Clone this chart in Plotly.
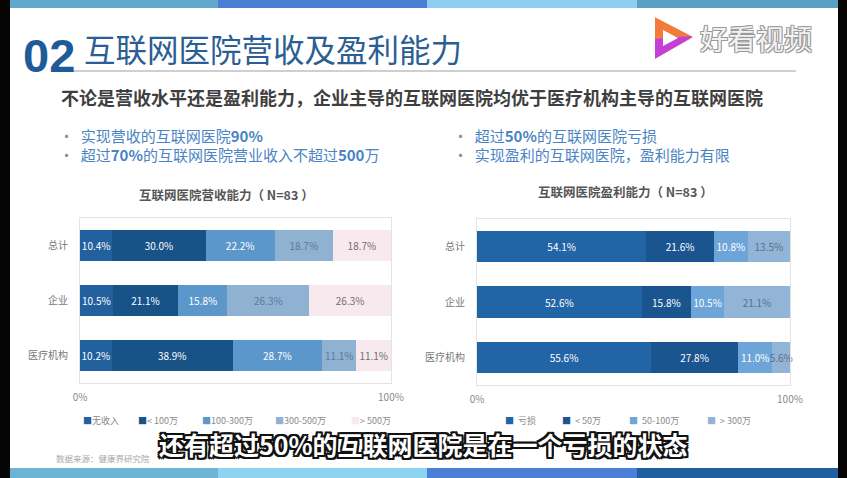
import plotly.graph_objects as go

W, H = 847, 478
FONT = "Noto Sans CJK SC"

# ---------------- data ----------------
categories = ["总计", "企业", "医疗机构"]

rev_series = ["无收入", "< 100万", "100-300万", "300-500万", "> 500万"]
rev_values = [
    [10.4, 10.5, 10.2],
    [30.0, 21.1, 38.9],
    [22.2, 15.8, 28.7],
    [18.7, 26.3, 11.1],
    [18.7, 26.3, 11.1],
]
rev_colors = ["#22619d", "#175387", "#5c97cb", "#8fb1d2", "#f8e9ee"]
rev_text_colors = ["#ffffff", "#ffffff", "#ffffff", "#5f7a98", "#707070"]

prof_series = ["亏损", "< 50万", "50-100万", "> 300万"]
prof_values = [
    [54.1, 52.6, 55.6],
    [21.6, 15.8, 27.8],
    [10.8, 10.5, 11.0],
    [13.5, 21.1, 5.6],
]
prof_colors = ["#2265a7", "#1a5590", "#6ea5d8", "#92b5d7"]
prof_text_colors = ["#ffffff", "#ffffff", "#ffffff", "#5b6f87"]

x_ticks = [0, 100]
x_tick_labels = ["0%", "100%"]


def X(p):
    return p / W


def Y(p):
    return 1 - p / H


fig = go.Figure()

for name, vals, col, tcol in zip(rev_series, rev_values, rev_colors, rev_text_colors):
    fig.add_trace(go.Bar(
        y=categories, x=vals, name=name, orientation="h",
        marker=dict(color=col, line=dict(width=0)),
        text=[f"{v:.1f}%" for v in vals], textposition="inside",
        insidetextanchor="middle", textangle=0,
        textfont=dict(size=10, color=tcol, family=FONT),
        xaxis="x", yaxis="y", showlegend=False, cliponaxis=False,
    ))

for name, vals, col, tcol in zip(prof_series, prof_values, prof_colors, prof_text_colors):
    fig.add_trace(go.Bar(
        y=categories, x=vals, name=name, orientation="h",
        marker=dict(color=col, line=dict(width=0)),
        text=[f"{v:.1f}%" for v in vals], textposition="inside",
        insidetextanchor="middle", textangle=0,
        textfont=dict(size=10, color=tcol, family=FONT),
        xaxis="x2", yaxis="y2", showlegend=False, cliponaxis=False,
    ))

xa = dict(range=[0, 100], tickvals=x_ticks, ticktext=x_tick_labels, automargin=False,
          showgrid=False, zeroline=False, showline=True, mirror=True,
          linecolor="#e4e4e4", linewidth=1, ticks="outside", ticklen=5,
          tickcolor="rgba(0,0,0,0)", tickfont=dict(size=10, color="#8a8a8a", family=FONT))
ya = dict(autorange="reversed", showgrid=False, zeroline=False, showline=True,
          mirror=True, linecolor="#e4e4e4", linewidth=1, ticks="", automargin=False,
          ticklabelstandoff=9, tickfont=dict(size=10, color="#777777", family=FONT))

fig.update_layout(
    width=W, height=H, margin=dict(l=0, r=0, t=0, b=0, pad=0, autoexpand=False),
    paper_bgcolor="white", plot_bgcolor="white",
    barmode="stack", bargap=0.43,
    uniformtext=dict(minsize=10, mode="show"),
    font=dict(family=FONT),
    xaxis=dict(xa, domain=[X(80), X(391)], anchor="y"),
    yaxis=dict(ya, domain=[Y(383), Y(218)], anchor="x"),
    xaxis2=dict(xa, domain=[X(477), X(790)], anchor="y2"),
    yaxis2=dict(ya, domain=[Y(385), Y(219)], anchor="x2"),
)

shapes = []
# top and bottom colour stripes
top_cols = ["#62a8cc", "#4b7fd4", "#8dcff0", "#5aa0c5"]
bot_cols = ["#6cb3d6", "#8fd3f2", "#4c80d8", "#1f5fa0"]
edges = [10, 218, 427, 637, 838]
for i in range(4):
    shapes.append(dict(type="rect", xref="paper", yref="paper",
                       x0=X(edges[i]), x1=X(edges[i + 1]), y0=Y(8), y1=Y(0),
                       fillcolor=top_cols[i], line=dict(width=0), layer="below"))
    shapes.append(dict(type="rect", xref="paper", yref="paper",
                       x0=X(edges[i]), x1=X(edges[i + 1]), y0=Y(478), y1=Y(468),
                       fillcolor=bot_cols[i], line=dict(width=0), layer="below"))
# black side borders
shapes.append(dict(type="rect", xref="paper", yref="paper", x0=0, x1=X(10), y0=0, y1=1,
                   fillcolor="#050505", line=dict(width=0)))
shapes.append(dict(type="rect", xref="paper", yref="paper", x0=X(838), x1=1, y0=0, y1=1,
                   fillcolor="#050505", line=dict(width=0)))
# title underline
shapes.append(dict(type="line", xref="paper", yref="paper", x0=X(70), x1=X(796),
                   y0=Y(71), y1=Y(71), line=dict(color="#cfcfcf", width=2)))


def path(pts):
    return "M " + " L ".join(f"{X(a)},{Y(b)}" for a, b in pts) + " Z"


# logo triangle
shapes.append(dict(type="path", xref="paper", yref="paper",
                   path=path([(656, 19), (691, 37), (656, 57)]),
                   fillcolor="#f27a3a", line=dict(color="#f27a3a", width=2)))
shapes.append(dict(type="path", xref="paper", yref="paper",
                   path=path([(656, 40), (691, 37), (656, 57)]),
                   fillcolor="#c63fd6", line=dict(color="#c63fd6", width=2)))
shapes.append(dict(type="path", xref="paper", yref="paper",
                   path=path([(663, 30), (678, 38), (663, 46)]),
                   fillcolor="#ffffff", line=dict(width=0)))
fig.update_layout(shapes=shapes)

ann = []


def txt(x, y, s, size, color, anchor="left", weight="normal", family=FONT, shadow=None):
    f = dict(size=size, color=color, family=family, weight=weight)
    if shadow:
        f["shadow"] = shadow
    ann.append(dict(x=X(x), y=Y(y), xref="paper", yref="paper", text=s, showarrow=False,
                    xanchor=anchor, yanchor="middle", font=f, borderpad=0))


txt(22, 56, "02", 47, "#1f5b98", weight="bold", family="Liberation Sans")
txt(83, 48, "互联网医院营收及盈利能力", 31.5, "#2b5e92")
txt(60, 97, "不论是营收水平还是盈利能力，企业主导的互联网医院均优于医疗机构主导的互联网医院",
    18, "#3f3f3f", weight="bold")

BUL = "<span style='color:#8090a8'>•</span>  "
txt(58, 135, BUL + "实现营收的互联网医院<b>90%</b>", 15, "#4a84c4")
txt(58, 154, BUL + "超过<b>70%</b>的互联网医院营业收入不超过<b>500</b>万", 15, "#4a84c4")
txt(452, 135, BUL + "超过<b>50%</b>的互联网医院亏损", 15, "#4a84c4")
txt(452, 154, BUL + "实现盈利的互联网医院，盈利能力有限", 15, "#4a84c4")

txt(226, 194, "互联网医院营收能力（ N=83 ）", 12.5, "#555555", anchor="center", weight="bold")
txt(625, 192, "互联网医院盈利能力（ N=83 ）", 12.5, "#555555", anchor="center", weight="bold")

# legends
rev_leg_x = [82, 137, 201, 274, 350]
for xx, name, col in zip(rev_leg_x, rev_series, rev_colors):
    txt(xx, 420, f"<span style='color:{col}'>■</span>{name}", 9, "#8a8a8a")
prof_leg_x = [504, 561, 628, 706]
for xx, name, col in zip(prof_leg_x, prof_series, prof_colors):
    txt(xx, 420, f"<span style='color:{col}'>■</span>  {name}", 9, "#8a8a8a")

txt(55, 458, "数据来源：健康界研究院", 8.5, "#a8a8a8")

outline = ", ".join(f"{dx}px {dy}px 0 #111" for dx, dy in
                    [(-2, -2), (2, -2), (-2, 2), (2, 2), (0, 2), (2, 0), (0, -2), (-2, 0)])
txt(423, 444, "还有超过50%的互联网医院是在一个亏损的状态", 25, "#ffffff",
    anchor="center", weight="bold", shadow=outline)

logo_shadow = ", ".join(f"{dx}px {dy}px 0 #9a9a9a" for dx, dy in
                        [(-1, -1), (1, -1), (-1, 1), (1, 1)])
txt(756, 38, "好看视频", 28, "#f2f2f2", anchor="center", shadow=logo_shadow)

fig.update_layout(annotations=ann)
fig.write_html("out.html", config=dict(displayModeBar=False),
               post_script="document.body.style.margin='0px';")
